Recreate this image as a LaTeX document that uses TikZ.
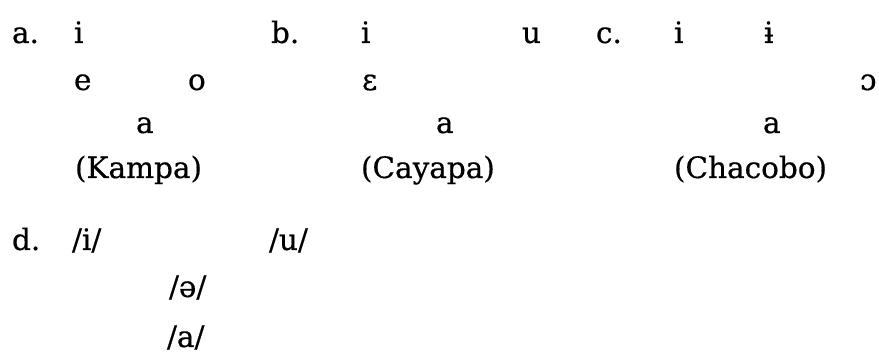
\documentclass[tikz,border=0pt]{standalone}
\usepackage{fontspec}
\setmainfont[FakeBold=0.5]{DejaVu Serif}
\begin{document}
\begin{tikzpicture}[x=1pt,y=-1pt,
  txt/.style={anchor=base west, inner sep=0pt, outer sep=0pt, font=\fontsize{29.5}{33}\selectfont, text=black}]
\useasboundingbox (0,0) rectangle (879,363);
% a.
\node[txt] (la) at (12,43) {a.};
\node[txt] (ai) at (74,43) {i};
\node[txt] (ae) at (74,90) {e};
\node[txt] (ao) at (188,90) {o};
\node[txt] (aa) at (136,133) {a};
\node[txt] (alang) at (75,178) {(Kampa)};
% b.
\node[txt] (lb) at (271,43) {b.};
\node[txt] (bi) at (361,43) {i};
\node[txt] (bu) at (522,43) {u};
\node[txt] (beps) at (362,90) {ɛ};
\node[txt] (ba) at (436,133) {a};
\node[txt] (blang) at (361,178) {(Cayapa)};
% c.
\node[txt] (lc) at (596,43) {c.};
\node[txt] (ci) at (674,43) {i};
\node[txt] (cbi) at (764,43) {ɨ};
\node[txt] (cop) at (860,90) {ɔ};
\node[txt] (ca) at (763,133) {a};
\node[txt] (clang) at (674,178) {(Chacobo)};
% d.
\node[txt] (ld) at (12,250) {d.};
\node[txt] (di) at (72,250) {/i/};
\node[txt] (du) at (269,250) {/u/};
\node[txt] (dschwa) at (169,297) {/ə/};
\node[txt] (da) at (167,347) {/a/};
\end{tikzpicture}
\end{document}
